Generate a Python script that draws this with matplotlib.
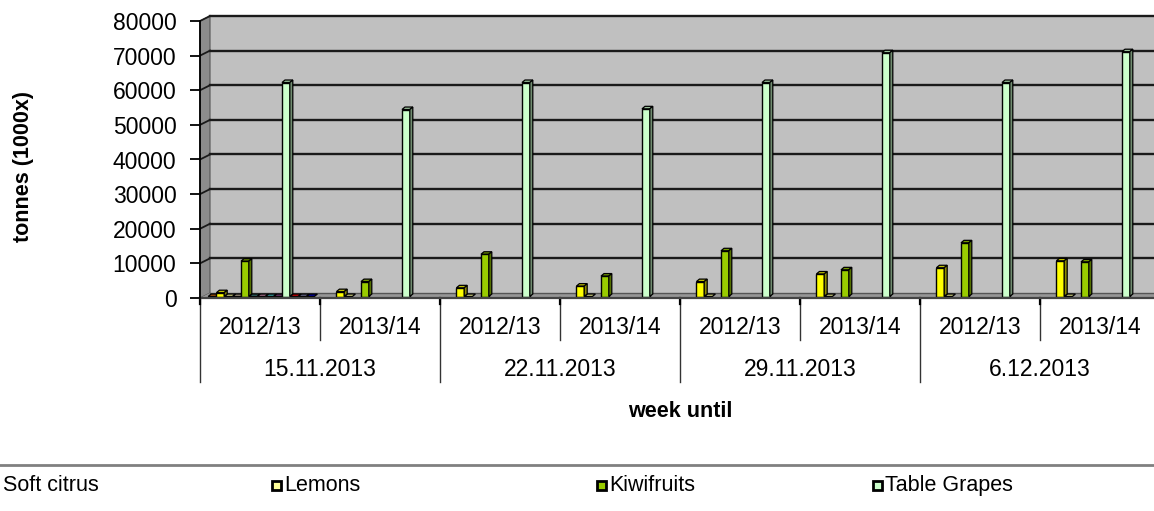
import numpy as np
import matplotlib
matplotlib.use("Agg")
import matplotlib.pyplot as plt
from matplotlib.patches import Polygon, Rectangle
from matplotlib.colors import to_rgb
from matplotlib.transforms import blended_transform_factory

plt.rcParams['font.family'] = ['Liberation Sans', 'DejaVu Sans']

# === Data ===
weeks = ["15.11.2013", "22.11.2013", "29.11.2013", "6.12.2013"]
seasons = ["2012/13", "2013/14"]

# 13 series per cluster, values per (week, season) cluster; nan = no data
nan = np.nan
s_brown = [0, nan, nan, nan, nan, nan, nan, nan]
soft_citrus = [1100, 1400, 2500, 3000, 4300, 6500, 8300, 10300]
lemons = [0, 0, 0, 0, 0, 0, 0, 0]
s_gray = [0, nan, nan, nan, nan, nan, nan, nan]
kiwifruits = [10200, 4300, 12200, 5900, 13200, 7700, 15500, 10000]
s_dkteal = [0, nan, nan, nan, nan, nan, nan, nan]
s_pink = [0, nan, nan, nan, nan, nan, nan, nan]
s_teal = [0, nan, nan, nan, nan, nan, nan, nan]
s_purple = [0, nan, nan, nan, nan, nan, nan, nan]
table_grapes = [61800, 54000, 61800, 54200, 61800, 70400, 61800, 70700]
s_red = [0, nan, nan, nan, nan, nan, nan, nan]
s_slate = [0, nan, nan, nan, nan, nan, nan, nan]
s_blue = [0, nan, nan, nan, nan, nan, nan, nan]

series = [s_brown, soft_citrus, lemons, s_gray, kiwifruits, s_dkteal, s_pink,
          s_teal, s_purple, table_grapes, s_red, s_slate, s_blue]
colors = ["#CC6611", "#FFFF00", "#FFFF99", "#C8B8A0", "#99CC00", "#408080",
          "#CC88AA", "#40C0C0", "#884488", "#CCFFCC", "#FF0000", "#8080A8", "#0000CC"]

legend_names = ["Soft citrus", "Lemons", "Kiwifruits", "Table Grapes"]
legend_colors = ["#FFFF00", "#FFFF99", "#99CC00", "#CCFFCC"]

# === Figure geometry (pixels) ===
W, H = 1154, 511
fig = plt.figure(figsize=(W / 100, H / 100), dpi=100)
X0, X1, Y0, Y1 = 200, 1160, 298, 21
ax = fig.add_axes([X0 / W, (H - Y0) / H, (X1 - X0) / W, (Y0 - Y1) / H])
n_clusters = len(soft_citrus)
ymax = 80000
ax.set_xlim(0, n_clusters)
ax.set_ylim(0, ymax)
ax.patch.set_alpha(0)
for s in ["top", "right", "bottom"]:
    ax.spines[s].set_visible(False)
ax.spines["left"].set_linewidth(1.3)
ax.spines["left"].set_zorder(10)
ax.set_xticks([])
ax.set_yticks(np.arange(0, ymax + 1, 10000))
ax.tick_params(axis="y", length=7, width=1.3, labelsize=16.5, pad=10)

ux = n_clusters / (X1 - X0)      # data units per pixel (x)
uy = ymax / (Y0 - Y1)            # data units per pixel (y)

# 3D wall / floor
WDX, WDY = 10 * ux, 5 * uy
xr = n_clusters + 0.2
ax.add_patch(Rectangle((WDX, WDY), xr, ymax, facecolor="#C0C0C0", edgecolor="none",
                       zorder=0, clip_on=False))
ax.add_patch(Polygon([(0, 0), (0, ymax), (WDX, ymax + WDY), (WDX, WDY)],
                     facecolor="#8C8C8C", edgecolor="#555555", lw=0.8, zorder=1, clip_on=False))
ax.add_patch(Polygon([(0, 0), (WDX, WDY), (xr, WDY), (xr, 0)],
                     facecolor="#969696", edgecolor="none", zorder=1, clip_on=False))
for v in np.arange(10000, ymax + 1, 10000):
    ax.plot([WDX, xr], [v + WDY, v + WDY], color="#1a1a1a", lw=1.7, zorder=2, clip_on=False)
    ax.plot([0, WDX], [v, v + WDY], color="#1a1a1a", lw=1.3, zorder=2, clip_on=False)
ax.plot([WDX, xr], [WDY, WDY], color="#555555", lw=1.0, zorder=2, clip_on=False)
ax.plot([0, xr], [0, 0], color="#444444", lw=1.6, zorder=9, clip_on=False)

# bars
SLOT, START, FACE = 8.2 * ux, 8.2 * ux, 7.8 * ux
BDX, BDY = 3 * ux, 2.5 * uy
base = 1.5 * uy


def shade(c, f):
    r, g, b = to_rgb(c)
    return (r * f, g * f, b * f)


for g in range(n_clusters):
    for i, vals in enumerate(series):
        h = vals[g]
        if np.isnan(h):
            continue
        xl = g + START + i * SLOT
        xrr = xl + FACE
        top = base + h
        z = 3 + i * 0.01
        ax.add_patch(Polygon([(xl, top), (xl + BDX, top + BDY), (xrr + BDX, top + BDY), (xrr, top)],
                             facecolor=shade(colors[i], 0.75), edgecolor="black", lw=0.9, zorder=z))
        if h > 0:
            ax.bar(xl, h, width=FACE, bottom=base, align="edge", color=colors[i],
                   edgecolor="black", lw=1.0, zorder=z)
            ax.add_patch(Polygon([(xrr, base), (xrr + BDX, base + BDY), (xrr + BDX, top + BDY), (xrr, top)],
                                 facecolor=shade(colors[i], 0.55), edgecolor="black", lw=0.9, zorder=z))

# category axis (two levels)
bt = blended_transform_factory(ax.transData, fig.transFigure)
fy = lambda py: 1 - py / H
for g in range(n_clusters + 1):
    y_end = 382 if g % 2 == 0 else 340
    ax.plot([g, g], [fy(Y0), fy(y_end)], color="#333333", lw=1.0, transform=bt, clip_on=False)
    ax.plot([g, g], [fy(Y0), fy(Y0 + 6)], color="black", lw=1.6, transform=bt, clip_on=False)
for g in range(n_clusters):
    ax.text(g + 0.5, fy(327), seasons[g % 2], ha="center", va="center", fontsize=16.5,
            transform=bt, clip_on=False)
for k, wk in enumerate(weeks):
    ax.text(2 * k + 1, fy(369), wk, ha="center", va="center", fontsize=16.5,
            transform=bt, clip_on=False)

fig.text(680 / W, fy(411), "week until", ha="center", va="center", fontsize=15.5, fontweight="bold")
fig.text(24 / W, fy(166), "tonnes (1000x)", ha="center", va="center", fontsize=15.5,
         fontweight="bold", rotation=90)

# legend (first entry's marker is cut off at the left edge)
fig.add_artist(plt.Line2D([0, 1], [fy(465), fy(465)], color="#808080", lw=2, transform=fig.transFigure))
marker_x = [-14, 272, 597, 873]
text_x = [3, 284, 609, 885]
for mx, tx, name, c in zip(marker_x, text_x, legend_names, legend_colors):
    fig.add_artist(Rectangle((mx / W, fy(490)), 9 / W, 9 / H, facecolor=c, edgecolor="black",
                             lw=2, transform=fig.transFigure))
    fig.text(tx / W, fy(485), name, ha="left", va="center", fontsize=15.5)

fig.savefig("out.png", dpi=100)
